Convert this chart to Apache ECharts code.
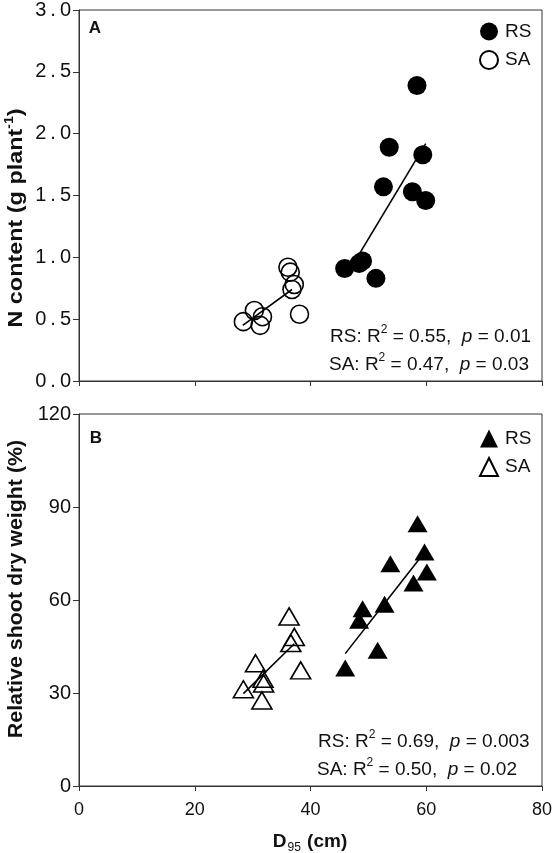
<!DOCTYPE html>
<html><head><meta charset="utf-8">
<script src="https://cdn.jsdelivr.net/npm/echarts@6/dist/echarts.min.js"></script>
<style>html,body{margin:0;padding:0;background:#fff}#c{width:556px;height:853px}</style>
</head><body><div id="c"></div>
<script>
// Panel A: N content vs D95
const rsA_D95 = [58.4, 53.6, 59.4, 52.6, 57.6, 59.9, 45.9, 48.4, 49.0, 51.3];
const rsA_N   = [2.39, 1.89, 1.83, 1.57, 1.53, 1.46, 0.91, 0.95, 0.97, 0.83];
const saA_D95 = [36.1, 36.5, 37.2, 36.8, 38.1, 30.3, 31.7, 28.4, 31.3];
const saA_N   = [0.92, 0.88, 0.78, 0.74, 0.54, 0.57, 0.52, 0.48, 0.45];
const fitA_RS_x = [48.6, 59.9], fitA_RS_y = [1.04, 1.92];
const fitA_SA_x = [28.3, 36.8], fitA_SA_y = [0.45, 0.74];
// Panel B: relative shoot dry weight vs D95
const rsB_D95 = [58.5, 59.7, 53.8, 60.1, 57.8, 49.0, 52.8, 48.4, 51.6, 46.0];
const rsB_RSDW = [84.6, 75.5, 71.7, 69.0, 65.5, 57.2, 58.6, 53.5, 43.8, 38.1];
const saB_D95 = [36.3, 37.2, 36.6, 30.5, 38.3, 31.8, 31.9, 28.4, 31.6];
const saB_RSDW = [54.7, 48.1, 46.1, 39.6, 37.3, 34.6, 33.1, 31.2, 27.6];
const fitB_RS_x = [46.0, 58.7], fitB_RS_y = [42.7, 73.0];
const fitB_SA_x = [28.4, 37.2], fitB_SA_y = [29.8, 45.9];
// Stats text
const statsA = [['RS', '0.55', '0.01'], ['SA', '0.47', '0.03']];
const statsB = [['RS', '0.69', '0.003'], ['SA', '0.50', '0.02']];

const FONT = 'Arial, "Liberation Sans", sans-serif';
const TXT = '#111';
const zip = (a, b) => a.map((v, i) => [v, b[i]]);
const chart = echarts.init(document.getElementById('c'), null, {renderer: 'canvas'});

function xAxis(gi, showLabels) {
  return {
    type: 'value', gridIndex: gi, min: 0, max: 80, interval: 20,
    axisLine: {show: true, onZero: false, lineStyle: {color: '#333', width: 1}},
    axisTick: {show: true, length: 5, lineStyle: {color: '#333'}},
    axisLabel: {show: showLabels, margin: 15, fontSize: 18, color: TXT, fontFamily: FONT},
    splitLine: {show: false}
  };
}
function yAxis(gi, max, interval, fmt) {
  return {
    type: 'value', gridIndex: gi, min: 0, max: max, interval: interval,
    axisLine: {show: true, onZero: false, lineStyle: {color: '#333', width: 1}},
    axisTick: {show: true, length: 6, lineStyle: {color: '#333'}},
    axisLabel: {margin: 8, fontSize: 20, color: TXT, fontFamily: FONT, formatter: fmt},
    splitLine: {show: false}
  };
}
function scatter(name, gi, data, symbol, size, filled) {
  return {
    name: name, type: 'scatter', xAxisIndex: gi, yAxisIndex: gi, data: data,
    symbol: symbol, symbolSize: size,
    itemStyle: filled ? {color: '#000', borderColor: '#000', borderWidth: 0, opacity: 1}
                      : {color: 'rgba(255,255,255,0)', borderColor: '#000', borderWidth: 1.6, opacity: 1},
    emphasis: {disabled: true}, z: 3
  };
}
function fit(gi, xs, ys) {
  return {
    type: 'line', xAxisIndex: gi, yAxisIndex: gi, data: zip(xs, ys),
    symbol: 'none', lineStyle: {color: '#000', width: 1.6}, silent: true, z: 4
  };
}
function statText(x, y, s) {
  return {
    type: 'text', x: x, y: y,
    style: {
      text: '{n|' + s[0] + ': R}{sup|2}{n| = ' + s[1] + ',  }{i|p}{n| = ' + s[2] + '}',
      verticalAlign: 'middle', align: 'left',
      rich: {
        n: {fontSize: 19, fontFamily: FONT, fill: TXT, lineHeight: 22, verticalAlign: 'bottom'},
        sup: {fontSize: 12, fontFamily: FONT, fill: TXT, lineHeight: 22, verticalAlign: 'top'},
        i: {fontSize: 19, fontFamily: FONT, fontStyle: 'italic', fill: TXT, lineHeight: 22, verticalAlign: 'bottom'}
      }
    }
  };
}
function legend(top, names, icons) {
  return {
    show: true, orient: 'vertical', left: 479, top: top, padding: 0,
    itemWidth: 18, itemHeight: 18, itemGap: 9, selectedMode: false,
    data: names.map((n, i) => ({name: n, icon: icons[i]})),
    formatter: n => n.split('_')[0],
    textStyle: {fontSize: 19, fontFamily: FONT, color: TXT, lineHeight: 18, padding: [0, 0, 0, 2]}
  };
}
const decFmt = v => v.toFixed(1).replace('.', '\u2009.\u2009');

const option = {
  animation: false,
  backgroundColor: '#fff',
  grid: [
    {left: 79, top: 10, width: 463, height: 371, show: true, borderColor: '#333', borderWidth: 1, backgroundColor: 'transparent'},
    {left: 79, top: 414, width: 463, height: 372, show: true, borderColor: '#333', borderWidth: 1, backgroundColor: 'transparent'}
  ],
  xAxis: [xAxis(0, false), xAxis(1, true)],
  yAxis: [yAxis(0, 3, 0.5, decFmt), yAxis(1, 120, 30, v => String(v))],
  legend: [
    legend(22, ['RS_A', 'SA_A'], ['circle', 'circle']),
    legend(429, ['RS_B', 'SA_B'], ['triangle', 'triangle'])
  ],
  series: [
    scatter('RS_A', 0, zip(rsA_D95, rsA_N), 'circle', 19, true),
    scatter('SA_A', 0, zip(saA_D95, saA_N), 'circle', 18, false),
    fit(0, fitA_RS_x, fitA_RS_y),
    fit(0, fitA_SA_x, fitA_SA_y),
    scatter('RS_B', 1, zip(rsB_D95, rsB_RSDW), 'triangle', [20, 17], true),
    scatter('SA_B', 1, zip(saB_D95, saB_RSDW), 'triangle', [20, 17], false),
    fit(1, fitB_RS_x, fitB_RS_y),
    fit(1, fitB_SA_x, fitB_SA_y)
  ],
  graphic: [
    {type: 'text', x: 95, y: 28, style: {text: 'A', fontSize: 17, fontWeight: 'bold', fontFamily: FONT, fill: TXT, align: 'center', verticalAlign: 'middle'}},
    {type: 'text', x: 96, y: 438, style: {text: 'B', fontSize: 17, fontWeight: 'bold', fontFamily: FONT, fill: TXT, align: 'center', verticalAlign: 'middle'}},
    statText(330, 335, statsA[0]),
    statText(329, 363, statsA[1]),
    statText(318, 740, statsB[0]),
    statText(317, 768, statsB[1]),
    {type: 'text', x: 15, y: 218, rotation: Math.PI / 2, scaleX: 1.17,
      style: {text: '{b|N content (g plant}{sup|-1}{b|)}', align: 'center', verticalAlign: 'middle',
        rich: {
          b: {fontSize: 20, fontWeight: 'bold', fontFamily: FONT, fill: TXT, lineHeight: 22, verticalAlign: 'bottom'},
          sup: {fontSize: 12, fontWeight: 'bold', fontFamily: FONT, fill: TXT, lineHeight: 22, verticalAlign: 'top'}
        }}},
    {type: 'text', x: 16, y: 589, rotation: Math.PI / 2, scaleX: 1.07,
      style: {text: 'Relative shoot dry weight (%)', align: 'center', verticalAlign: 'middle',
        fontSize: 20, fontWeight: 'bold', fontFamily: FONT, fill: TXT}},
    {type: 'text', x: 310, y: 843,
      style: {text: '{b|D}{sub|95}{b| (cm)}', align: 'center', verticalAlign: 'middle',
        rich: {
          b: {fontSize: 19, fontWeight: 'bold', fontFamily: FONT, fill: TXT, lineHeight: 22, verticalAlign: 'top'},
          sub: {fontSize: 12, fontFamily: FONT, fill: TXT, lineHeight: 22, verticalAlign: 'bottom', padding: [0, 1, 0, 1]}
        }}}
  ]
};
chart.setOption(option);
</script>
</body></html>
